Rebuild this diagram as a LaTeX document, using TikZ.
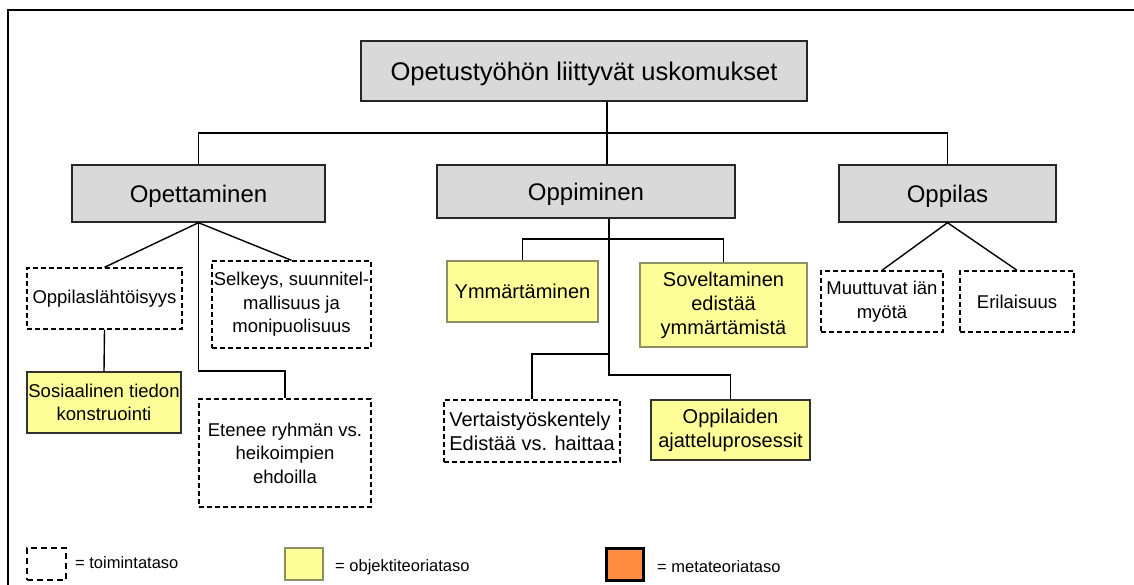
\documentclass[tikz,border=0pt]{standalone}
\usepackage{fontspec}
\setmainfont{Liberation Sans}
\definecolor{boxgray}{HTML}{D9D9D9}
\definecolor{boxyellow}{HTML}{FFFF99}
\definecolor{yellowedge}{HTML}{8F8F66}
\definecolor{boxorange}{HTML}{FF8C40}
\tikzset{
  base/.style={inner sep=0pt, align=center, line width=1.4pt},
  graybox/.style={base, fill=boxgray, draw=black!85, font=\fontsize{24}{28}\selectfont, text height=17.3pt, text depth=0pt},
  rootbox/.style={graybox, font=\fontsize{25.5}{30}\selectfont, text height=18.3pt},
  dashbox/.style={base, draw=black, dash pattern=on 5pt off 3pt, font=\fontsize{18.5}{23.5}\selectfont},
  bigtext/.style={font=\fontsize{20}{24}\selectfont},
  yellowbox/.style={base, fill=boxyellow, draw=black!80, font=\fontsize{18.5}{23.5}\selectfont},
  paleedge/.style={draw=yellowedge},
  conn/.style={line width=1.4pt, draw=black},
  legtext/.style={inner sep=0pt, anchor=west, font=\fontsize{16.5}{19}\selectfont},
}
\begin{document}
\begin{tikzpicture}[x=1pt,y=-1pt]
\useasboundingbox (0,0) rectangle (1134,585);
% frame
\draw[line width=1.8pt] (8,585) -- (8,10) -- (1134,10);

% top level
\node[rootbox, minimum width=446pt, minimum height=60pt] (root) at (584,71) {Opetustyöhön liittyvät uskomukset};
\node[graybox, minimum width=253pt, minimum height=57pt] (opet) at (198.5,193.5) {Opettaminen};
\node[graybox, minimum width=298pt, minimum height=53pt] (oppi) at (586,191.5) {Oppiminen};
\node[graybox, minimum width=217pt, minimum height=57pt] (oppilas) at (947.5,193.5) {Oppilas};

% Opettaminen children
\node[dashbox, minimum width=155pt, minimum height=61pt] (opl) at (104.5,298.5) {Oppilaslähtöisyys};
\node[yellowbox, minimum width=154pt, minimum height=61pt] (sos) at (104,402.5) {Sosiaalinen tiedon\\konstruointi};
\node[dashbox, minimum width=159pt, minimum height=87pt] (selk) at (291.5,304.5) {Selkeys, suunnitel-\\mallisuus ja\\monipuolisuus};
\node[dashbox, minimum width=172pt, minimum height=108pt] (eten) at (285,453) {Etenee ryhmän vs.\\heikoimpien\\ehdoilla};

% Oppiminen children
\node[yellowbox, paleedge, bigtext, minimum width=151pt, minimum height=61pt] (ymm) at (522.5,291.5) {Ymmärtäminen};
\node[yellowbox, paleedge, bigtext, minimum width=167pt, minimum height=84pt] (sov) at (723.5,305) {Soveltaminen\\edistää\\ymmärtämistä};
\node[dashbox, bigtext, align=left, minimum width=176pt, minimum height=62pt] (vert) at (532,431) {Vertaistyöskentely\\Edistää vs. haittaa};
\node[yellowbox, bigtext, minimum width=159pt, minimum height=60pt] (ajat) at (730.5,430) {Oppilaiden\\ajatteluprosessit};

% Oppilas children
\node[dashbox, minimum width=122pt, minimum height=61pt] (muut) at (882,301.5) {Muuttuvat iän\\myötä};
\node[dashbox, minimum width=114pt, minimum height=61pt] (eril) at (1017,301.5) {Erilaisuus};

% connectors
\coordinate (j0) at (607,133);
\draw[conn] (root.south -| j0) -- (j0);
\draw[conn] (opet.north) |- (j0) -| (oppilas.north);
\draw[conn] (j0) -- (oppi.north -| j0);

\draw[conn] (opl.north) -- (opet.south) -- (selk.north);
\draw[conn] (opet.south) -- (opet.south |- 0,371) -| (eten.north);
\draw[conn] (opl.south) -- (sos.north);

\coordinate (s1) at (609,239);
\coordinate (s2) at (609,354);
\coordinate (s3) at (609,375);
\draw[conn] (oppi.south -| s1) -- (s3) -| (ajat.north);
\draw[conn] (ymm.north) |- (s1) -| (sov.north);
\draw[conn] (vert.north) |- (s2);

\draw[conn] (muut.north) -- (oppilas.south) -- (eril.north);

% legend
\node[base, draw=black, line width=1.8pt, dash pattern=on 6pt off 4pt, minimum width=39pt, minimum height=32pt] (lg1) at (46.5,564) {};
\node[legtext] (lt1) at (75,563) {= toimintataso};
\node[base, fill=boxyellow, draw=yellowedge, minimum width=38pt, minimum height=32pt] (lg2) at (304,564) {};
\node[legtext] (lt2) at (335,567) {= objektiteoriataso};
\node[base, fill=boxorange, draw=black, line width=3.5pt, minimum width=37pt, minimum height=32pt] (lg3) at (625,564.5) {};
\node[legtext] (lt3) at (657,567) {= metateoriataso};
\end{tikzpicture}
\end{document}
